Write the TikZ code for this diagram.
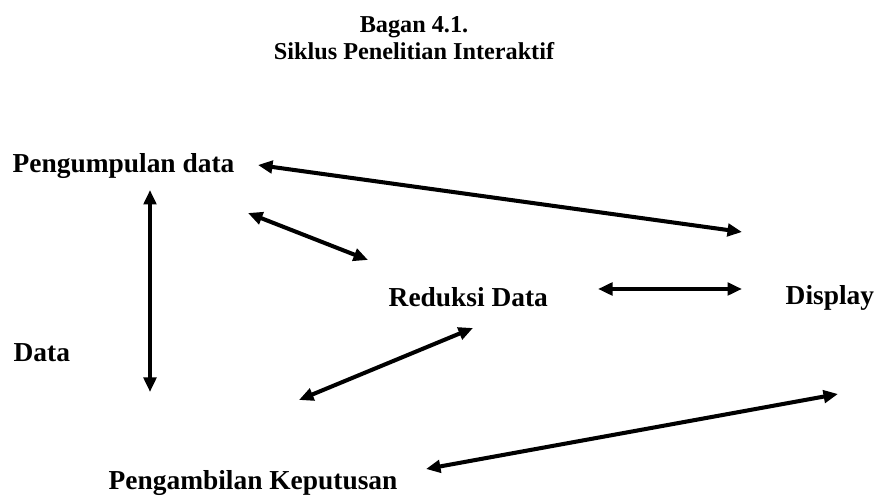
\documentclass[tikz,border=0pt]{standalone}
\usepackage{fontspec}
\setmainfont{Liberation Serif}
\usetikzlibrary{arrows.meta}
\usetikzlibrary{positioning}
\tikzset{
    Node/.style = {inner sep=0pt, anchor=base west, font=\bfseries\fontsize{15.6}{18}\selectfont}
}
\tikzset{
    Edge/.style = {draw=black, line width=2.3pt, <->, >={Triangle[length=0.29cm,width=0.25cm]}}
}

\begin{document}
\begin{tikzpicture}[
    thick
]
\tikzset{
    mytitle/.style = {inner sep=0pt, anchor=north, align=center, font=\bfseries\fontsize{13.8}{15.4}\selectfont},
}
\useasboundingbox (0,0) rectangle (17.58,9.94);

\node[mytitle] at (8.28,9.62) (judul) {Bagan 4.1.\\Siklus Penelitian Interaktif};

\node[Node] at (0.24,6.48) (kumpul) {Pengumpulan data};
\node[Node] at (7.76,3.80) (reduksi) {Reduksi Data};
\node[Node] at (15.70,3.84) (display) {Display};
\node[Node] at (0.26,2.70) (data) {Data};
\node[Node] at (2.16,0.14) (ambil) {Pengambilan Keputusan};

\coordinate (k1) at (3.00,6.14);
\coordinate (k2) at (3.00,2.10);
\coordinate (k3) at (5.16,6.64);
\coordinate (d1) at (14.84,5.30);
\coordinate (k4) at (4.96,5.68);
\coordinate (r1) at (7.36,4.74);
\coordinate (r2) at (11.96,4.16);
\coordinate (d2) at (14.84,4.16);
\coordinate (r3) at (9.46,3.38);
\coordinate (a1) at (5.98,1.94);
\coordinate (d3) at (16.76,2.06);
\coordinate (a2) at (8.52,0.56);

\path (k1) edge [Edge] (k2);
\path (k3) edge [Edge] (d1);
\path (k4) edge [Edge] (r1);
\path (r2) edge [Edge] (d2);
\path (r3) edge [Edge] (a1);
\path (d3) edge [Edge] (a2);
\end{tikzpicture}
\end{document}
